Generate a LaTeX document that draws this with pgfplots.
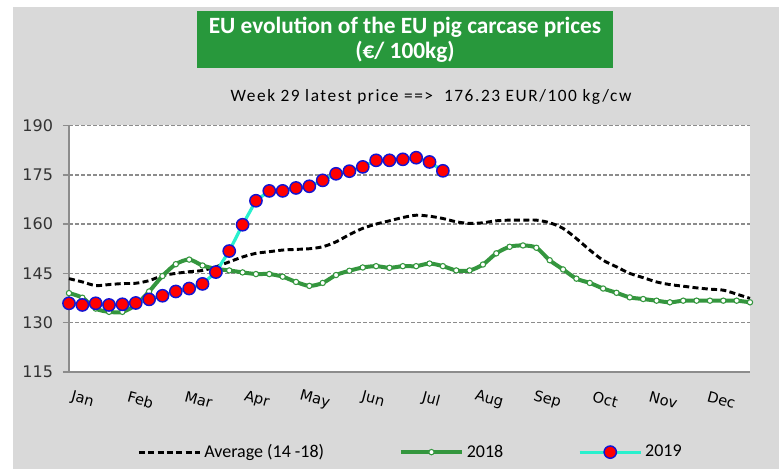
\documentclass[border=0pt]{standalone}
\usepackage{pgfplots}
\pgfplotsset{compat=1.18}
\usepackage{fontspec}
\setmainfont{DejaVu Sans}
\newfontfamily\calibri{Carlito}
\definecolor{bgray}{RGB}{217,217,217}
\definecolor{gridgray}{RGB}{140,140,140}
\definecolor{titlegreen}{RGB}{40,152,60}
\definecolor{green18}{RGB}{52,150,62}
\definecolor{cyan19}{RGB}{40,240,205}
\definecolor{blue19}{RGB}{20,20,210}

\begin{document}
\begin{tikzpicture}[x=0.75pt,y=0.75pt]
\path[use as bounding box] (0,0) rectangle (779,469);
\fill[bgray] (13,0) rectangle (779,462);
\node[fill=titlegreen, text=white, minimum width=312pt, minimum height=42.75pt, inner sep=0pt,
      align=center, font=\calibri\bfseries\fontsize{17.5}{19}\selectfont]
  at (405,429.5) {EU evolution of the EU pig carcase prices\\(€/ 100kg)};
\node[font=\calibri\fontsize{13}{15}\selectfont\addfontfeatures{LetterSpace=9}]
  at (431,372) {Week 29 latest price ==>\ \ 176.23 EUR/100 kg/cw};

\begin{axis}[
    at={(51.75pt,72.75pt)}, anchor=south west,
    scale only axis, width=510.75pt, height=184.9pt,
    xmin=1, xmax=52, ymin=115, ymax=190,
    axis background/.style={fill=white},
    axis x line*=bottom, axis y line*=left,
    axis line style={gridgray, line width=1.5pt, -},
    ytick={115,130,145,160,175,190},
    xtick={2.45,6.8,11.15,15.5,19.85,24.2,28.55,32.9,37.25,41.6,45.95,50.3},
    xticklabels={Jan,Feb,Mar,Apr,May,Jun,Jul,Aug,Sep,Oct,Nov,Dec},
    xtick style={draw=none},
    ytick style={gridgray, line width=1.2pt},
    tick align=outside, major tick length=4.5pt,
    ymajorgrids, grid style={gridgray, line width=1.1pt, dash pattern=on 3pt off 1.5pt},
    yticklabel style={font=\fontsize{12}{13}\selectfont, text=black!80, xshift=-4pt},
    xticklabel style={font=\fontsize{11}{13}\selectfont, rotate=-15, anchor=center, yshift=-17pt},
    /pgf/number format/assume math mode=true,
    clip=false,
    legend columns=3,
    legend style={at={(0.502,-0.325)}, anchor=center, draw=none, fill=none,
                  font=\calibri\fontsize{13.5}{15}\selectfont,
                  /tikz/every even column/.append style={column sep=54pt}},
    legend image code/.code={\draw[mark repeat=2,mark phase=2,#1] plot coordinates {(0pt,0pt) (23pt,0pt) (46pt,0pt)};},
]
% Average 2014-2018
\addplot[black, line width=2.2pt, dash pattern=on 4.5pt off 2.5pt, smooth, no markers] coordinates {
 (1,143.4) (2,142.4) (3,141.3) (4,141.6) (5,141.9) (6,142.0) (7,142.8) (8,144.3) (9,145.0) (10,145.5)
 (11,145.9) (12,147.0) (13,148.5) (14,150.0) (15,151.1) (16,151.6) (17,152.1) (18,152.3) (19,152.5) (20,153.1)
 (21,154.6) (22,156.8) (23,158.7) (24,160.0) (25,161.0) (26,162.0) (27,162.7) (28,162.4) (29,161.7) (30,160.7)
 (31,160.2) (32,160.4) (33,161.0) (34,161.2) (35,161.2) (36,161.2) (37,160.4) (38,158.7) (39,155.6) (40,152.1)
 (41,149.0) (42,147.0) (43,145.0) (44,143.7) (45,142.4) (46,141.6) (47,141.1) (48,140.6) (49,140.2) (50,139.9)
 (51,138.7) (52,137.4) };
% 2018
\addplot[green18, line width=3pt, smooth, mark=*, mark size=2pt,
         mark options={fill=white, draw=green18, line width=0.8pt, solid}] coordinates {
 (1,139.0) (2,137.6) (3,134.3) (4,133.3) (5,133.3) (6,135.4) (7,139.5) (8,144.2) (9,147.8) (10,149.2)
 (11,147.4) (12,146.4) (13,145.9) (14,145.3) (15,144.8) (16,144.8) (17,144.0) (18,142.4) (19,141.2) (20,142.1)
 (21,144.5) (22,145.8) (23,146.8) (24,147.2) (25,146.7) (26,147.2) (27,147.2) (28,148.0) (29,147.2) (30,145.9)
 (31,145.9) (32,147.7) (33,151.1) (34,153.1) (35,153.5) (36,152.8) (37,149.0) (38,146.2) (39,143.4) (40,142.1)
 (41,140.4) (42,139.1) (43,137.7) (44,137.2) (45,136.7) (46,136.2) (47,136.7) (48,136.7) (49,136.7) (50,136.7)
 (51,136.7) (52,136.2) };
% 2019
\addplot[cyan19, line width=2.4pt, mark=*, mark size=4.6pt,
         mark options={fill=red, draw=blue19, line width=1.1pt}] coordinates {
 (1,135.9) (2,135.4) (3,135.9) (4,135.4) (5,135.6) (6,136.0) (7,137.1) (8,138.2) (9,139.5) (10,140.4)
 (11,141.8) (12,145.4) (13,151.8) (14,159.8) (15,167.1) (16,170.1) (17,170.1) (18,171.0) (19,171.5) (20,173.3)
 (21,175.3) (22,176.1) (23,177.4) (24,179.4) (25,179.4) (26,179.7) (27,180.2) (28,178.9) (29,176.2) };
\legend{Average (14 -18), 2018, 2019}
\end{axis}
\end{tikzpicture}
\end{document}
